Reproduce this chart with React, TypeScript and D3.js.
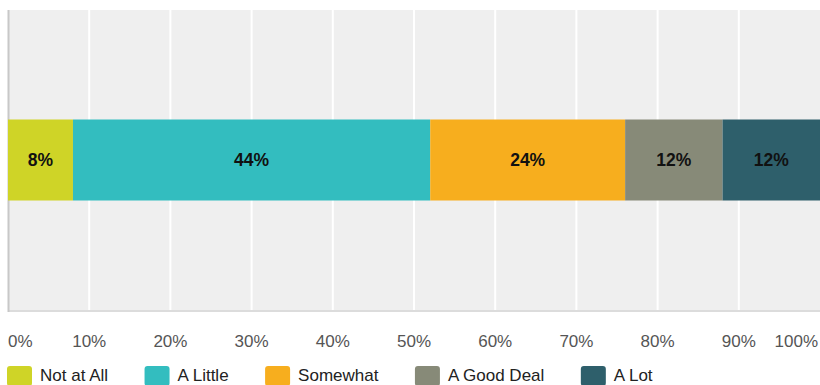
import React, { useEffect, useRef } from "react";
import * as d3 from "d3";

const categories = ["Not at All", "A Little", "Somewhat", "A Good Deal", "A Lot"];
const values = [8, 44, 24, 12, 12];
const colors = ["#CFD427", "#33BDBF", "#F7AE1E", "#878A78", "#2E5F6B"];
const tickValues = [0, 10, 20, 30, 40, 50, 60, 70, 80, 90, 100];

const W = 820;
const H = 385;
const FONT = "'Liberation Sans', Arial, Helvetica, sans-serif";

export default function App() {
  const ref = useRef<SVGSVGElement | null>(null);

  useEffect(() => {
    const svg = d3.select(ref.current);
    svg.selectAll("*").remove();

    const left = 8, right = 820, top = 10, bottom = 310;
    const x = d3.scaleLinear().domain([0, 100]).range([left, right]);
    const y = d3.scaleBand().domain(["row"]).range([top, bottom]).paddingInner(0.73).paddingOuter(0.365);

    svg.append("rect").attr("x", left).attr("y", top).attr("width", right - left).attr("height", bottom - top).attr("fill", "#EFEFEF");

    svg.append("g").selectAll("line").data(tickValues.slice(1, -1)).join("line")
      .attr("x1", (d) => x(d)).attr("x2", (d) => x(d))
      .attr("y1", top).attr("y2", bottom)
      .attr("stroke", "#FFFFFF").attr("stroke-width", 2);

    svg.append("line").attr("x1", left).attr("x2", right).attr("y1", bottom + 1).attr("y2", bottom + 1)
      .attr("stroke", "#DCDCDC").attr("stroke-width", 2);
    svg.append("line").attr("x1", left + 0.5).attr("x2", left + 0.5).attr("y1", top).attr("y2", bottom + 2)
      .attr("stroke", "#C8C8C8").attr("stroke-width", 2);

    const stacked = values.map((v, i) => {
      const start = d3.sum(values.slice(0, i));
      return { v, start, end: start + v, color: colors[i] };
    });

    const by = y("row") as number;
    const bh = y.bandwidth();
    const g = svg.append("g");
    g.selectAll("rect").data(stacked).join("rect")
      .attr("x", (d) => x(d.start)).attr("width", (d) => x(d.end) - x(d.start))
      .attr("y", by).attr("height", bh).attr("fill", (d) => d.color);
    g.selectAll("text").data(stacked).join("text")
      .attr("x", (d) => (x(d.start) + x(d.end)) / 2)
      .attr("y", by + bh / 2)
      .attr("dy", "0.35em")
      .attr("text-anchor", "middle")
      .attr("font-family", FONT).attr("font-weight", "bold").attr("font-size", 17.5)
      .attr("fill", "#111").text((d) => `${d.v}%`);

    svg.append("g").selectAll("text").data(tickValues).join("text")
      .attr("x", (d, i) => (i === 0 ? left : i === tickValues.length - 1 ? right - 2 : x(d)))
      .attr("y", 341).attr("dy", "0.35em")
      .attr("text-anchor", (d, i) => (i === 0 ? "start" : i === tickValues.length - 1 ? "end" : "middle"))
      .attr("font-family", FONT).attr("font-size", 17).attr("fill", "#555")
      .text((d) => `${d}%`);

    const legend = svg.append("g");
    let cx = 7;
    categories.forEach((c, i) => {
      legend.append("rect").attr("x", cx).attr("y", 366).attr("width", 25).attr("height", 20).attr("rx", 3)
        .attr("fill", colors[i]);
      const t = legend.append("text").attr("x", cx + 33).attr("y", 375).attr("dy", "0.35em")
        .attr("font-family", FONT).attr("font-size", 17).attr("fill", "#222").text(c);
      const w = (t.node() as SVGTextElement).getComputedTextLength();
      cx = cx + 33 + w + 36.5;
    });
  }, []);

  return (
    <svg ref={ref} width={W} height={H} style={{ position: "absolute", left: 0, top: 0, display: "block" }} />
  );
}
